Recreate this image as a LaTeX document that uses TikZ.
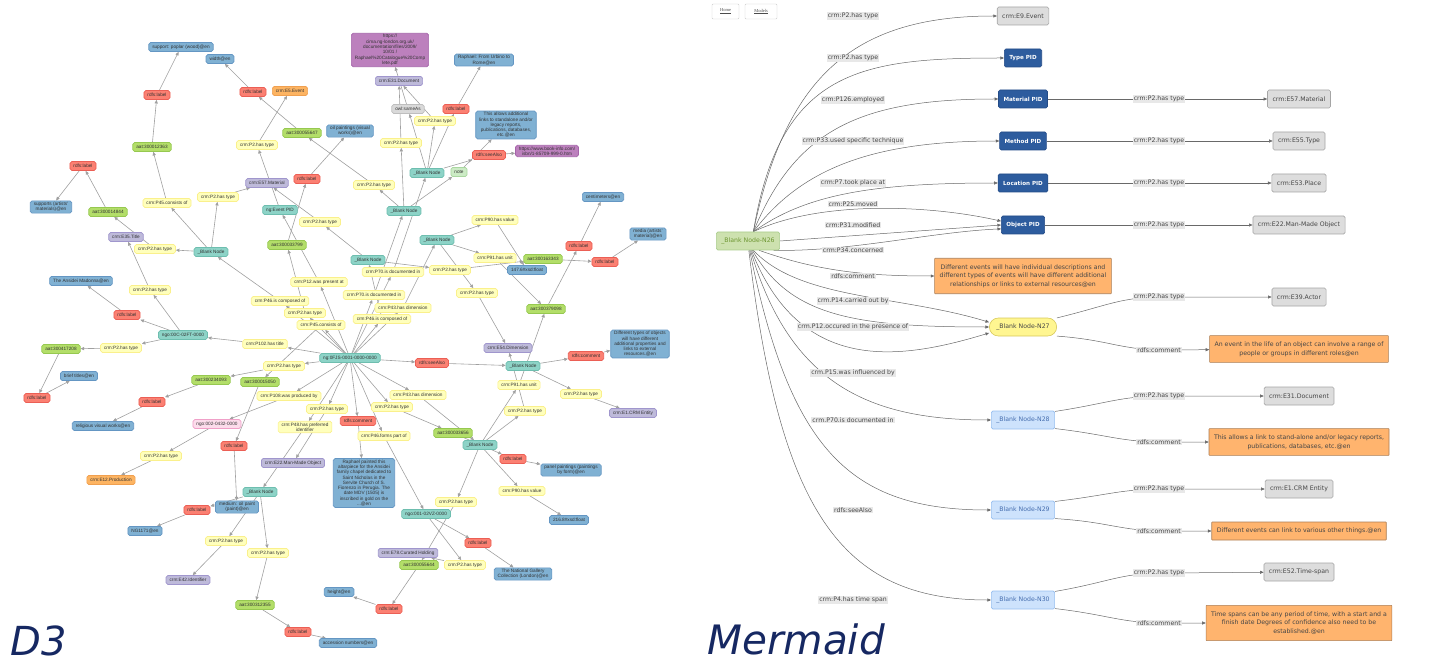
\documentclass[tikz,border=0pt]{standalone}
\usepackage{fontspec}
\setmainfont{Liberation Sans}
\newfontfamily\djv{DejaVu Sans}
\newfontfamily\srf{Liberation Serif}
\usepackage{tikz}
\usetikzlibrary{arrows.meta}

\definecolor{prY}{RGB}{255,255,188}
\definecolor{prYd}{RGB}{250,240,140}
\definecolor{bnT}{RGB}{141,211,199}
\definecolor{bnTd}{RGB}{110,190,175}
\definecolor{aaG}{RGB}{179,222,105}
\definecolor{aaGd}{RGB}{150,200,80}
\definecolor{rlR}{RGB}{251,128,114}
\definecolor{rlRd}{RGB}{235,95,85}
\definecolor{ltB}{RGB}{128,177,211}
\definecolor{ltBd}{RGB}{100,150,195}
\definecolor{clP}{RGB}{190,186,218}
\definecolor{clPd}{RGB}{160,150,205}
\definecolor{evO}{RGB}{253,180,98}
\definecolor{evOd}{RGB}{240,160,80}
\definecolor{urM}{RGB}{188,128,189}
\definecolor{urMd}{RGB}{165,100,170}
\definecolor{pkP}{RGB}{252,220,235}
\definecolor{pkPd}{RGB}{240,160,200}
\definecolor{saG}{RGB}{217,217,217}
\definecolor{saGd}{RGB}{190,190,190}
\definecolor{ntG}{RGB}{204,235,197}
\definecolor{ntGd}{RGB}{170,215,160}
\definecolor{dLine}{RGB}{160,160,160}
\definecolor{mGray}{RGB}{221,221,221}
\definecolor{mGrayd}{RGB}{165,165,165}
\definecolor{mPid}{RGB}{45,92,158}
\definecolor{mPidd}{RGB}{35,75,135}
\definecolor{mGreen}{RGB}{205,225,175}
\definecolor{mGreend}{RGB}{170,205,140}
\definecolor{mGreent}{RGB}{110,150,50}
\definecolor{mYel}{RGB}{255,246,145}
\definecolor{mYeld}{RGB}{215,200,90}
\definecolor{mBlue}{RGB}{205,226,252}
\definecolor{mBlued}{RGB}{150,190,240}
\definecolor{mBluet}{RGB}{70,110,175}
\definecolor{mOra}{RGB}{255,180,110}
\definecolor{mOrad}{RGB}{170,125,85}
\definecolor{mLab}{RGB}{232,232,232}
\definecolor{mLine}{RGB}{105,105,105}
\definecolor{mText}{RGB}{70,70,70}
\definecolor{navy}{RGB}{22,40,98}

\newcommand\dtsize{\fontsize{4.7}{5.3}\selectfont}
\newcommand\mmsize{\djv\fontsize{6.2}{8.7}\selectfont}

\pgfdeclarelayer{edges}
\pgfsetlayers{edges,main}

\begin{document}
\begin{tikzpicture}[x=1pt,y=-1pt,
  dn/.style={rounded corners=1.8pt,line width=0.7pt,inner xsep=3.5pt,inner ysep=1.3pt,minimum height=9pt,align=center,font=\dtsize,text=black!80},
  pr/.style={dn,fill=prY,draw=prYd},
  bn/.style={dn,fill=bnT,draw=bnTd},
  aa/.style={dn,fill=aaG,draw=aaGd},
  rl/.style={dn,fill=rlR,draw=rlRd},
  lt/.style={dn,fill=ltB,draw=ltBd},
  cl/.style={dn,fill=clP,draw=clPd},
  ev/.style={dn,fill=evO,draw=evOd},
  ur/.style={dn,fill=urM,draw=urMd},
  pk/.style={dn,fill=pkP,draw=pkPd},
  sa/.style={dn,fill=saG,draw=saGd},
  nt/.style={dn,fill=ntG,draw=ntGd},
  da/.style={draw=dLine,line width=0.6pt,-{Triangle[length=3.6pt,width=3.2pt]}},
  mn/.style={rounded corners=1.5pt,line width=0.6pt,inner xsep=5pt,minimum height=18pt,align=center,font=\mmsize},
  mg/.style={mn,fill=mGray,draw=mGrayd,text=mText},
  mp/.style={mn,fill=mPid,draw=mPidd,text=white,font=\djv\bfseries\fontsize{5.6}{7}\selectfont},
  mc/.style={mn,fill=mOra,draw=mOrad,text=mText,rounded corners=0.5pt,inner ysep=6pt,minimum height=18pt},
  mb/.style={mn,fill=mBlue,draw=mBlued,text=mBluet},
  ml/.style={fill=mLab,inner xsep=1pt,inner ysep=0.8pt,font=\mmsize,text=mText},
  ma/.style={draw=mLine,line width=0.5pt,-{Triangle[length=3.6pt,width=3pt]}},
  btn/.style={draw=black!20,fill=white,rounded corners=1pt,minimum height=15pt,inner xsep=2pt,font=\srf\fontsize{4.5}{5}\selectfont,text=black!70}]

\useasboundingbox (0,0) rectangle (1434,668);

% D3 graph
\node[lt] (d1) at (181,47) {support: poplar (wood)@en};
\node[lt] (d2) at (220,59) {width@en};
\node[rl] (d3) at (157,95) {rdfs:label};
\node[rl] (d4) at (253,92) {rdfs:label};
\node[ev] (d5) at (290,91) {crm:E5.Event};
\node[aa] (d6) at (152,147) {aat:300012363};
\node[pr] (d7) at (257,145) {crm:P2.has type};
\node[aa] (d8) at (302,133) {aat:300055647};
\node[lt] (d9) at (350,131) {oil paintings (visual\\works)@en};
\node[rl] (d10) at (83,166) {rdfs:label};
\node[lt] (d11) at (51,207) {supports (artists'\\materials)@en};
\node[aa] (d12) at (108,212) {aat:300014844};
\node[pr] (d13) at (167,203) {crm:P45.consists of};
\node[pr] (d14) at (218,197) {crm:P2.has type};
\node[cl] (d15) at (267,183) {crm:E57.Material};
\node[rl] (d16) at (307,179) {rdfs:label};
\node[bn] (d17) at (280,210) {ng:Event PID};
\node[ur] (d18) at (390,50) {https://\\cima.ng-london.org.uk/\\documentation/files/2009/\\10/01 /\\Raphael\%20Catalogue\%20Comp\\lete.pdf};
\node[cl] (d19) at (399,81) {crm:E31.Document};
\node[lt] (d20) at (484,60) {Raphael: From Urbino to\\Rome@en};
\node[sa] (d21) at (408,109) {owl:sameAs};
\node[rl] (d22) at (456,109) {rdfs:label};
\node[pr] (d23) at (435,121) {crm:P2.has type};
\node[lt] (d24) at (506,125) {This allows additional\\links to standalone and/or\\legacy reports,\\publications, databases,\\etc.@en};
\node[pr] (d25) at (401,143) {crm:P2.has type};
\node[rl] (d26) at (489,155) {rdfs:seeAlso};
\node[ur] (d27) at (547,151) {https://www.book-info.com/\\isbn/1-85709-999-0.htm};
\node[bn] (d28) at (427,173) {\_Blank Node};
\node[nt] (d29) at (459,172) {note};
\node[pr] (d30) at (374,185) {crm:P2.has type};
\node[bn] (d31) at (404,211) {\_Blank Node};
\node[lt] (d32) at (603,197) {centimeters@en};
\node[pr] (d33) at (495,220) {crm:P90.has value};
\node[cl] (d34) at (126,237) {crm:E35.Title};
\node[pr] (d35) at (155,249) {crm:P2.has type};
\node[bn] (d36) at (211,252) {\_Blank Node};
\node[aa] (d37) at (287,245) {aat:300033799};
\node[pr] (d38) at (320,222) {crm:P2.has type};
\node[bn] (d39) at (437,240) {\_Blank Node};
\node[bn] (d40) at (368,260) {\_Blank Node};
\node[pr] (d41) at (495,258) {crm:P91.has unit};
\node[aa] (d42) at (543,259) {aat:300163343};
\node[rl] (d43) at (579,246) {rdfs:label};
\node[lt] (d44) at (648,234) {media (artists'\\material)@en};
\node[rl] (d45) at (605,262) {rdfs:label};
\node[pr] (d46) at (393,272) {crm:P70.is documented in};
\node[pr] (d47) at (450,270) {crm:P2.has type};
\node[lt] (d48) at (527,270) {147.6\#xsd:float};
\node[lt] (d49) at (81,281) {The Ansidei Madonna@en};
\node[pr] (d50) at (150,290) {crm:P2.has type};
\node[pr] (d51) at (319,282) {crm:P12.was present at};
\node[pr] (d52) at (374,295) {crm:P70.is documented in};
\node[pr] (d53) at (477,293) {crm:P2.has type};
\node[pr] (d54) at (280,301) {crm:P46.is composed of};
\node[pr] (d55) at (403,308) {crm:P43.has dimension};
\node[aa] (d56) at (546,309) {aat:300379098};
\node[pr] (d57) at (305,313) {crm:P2.has type};
\node[rl] (d58) at (127,315) {rdfs:label};
\node[pr] (d59) at (382,319) {crm:P46.is composed of};
\node[pr] (d60) at (321,325) {crm:P45.consists of};
\node[bn] (d61) at (183,335) {ngo:00C-02FT-0000};
\node[pr] (d62) at (265,344) {crm:P102.has title};
\node[lt] (d63) at (640,344) {Different types of objects\\will have different\\additional properties and\\links to external\\resources.@en};
\node[cl] (d64) at (508,348) {crm:E54.Dimension};
\node[aa] (d65) at (61,349) {aat:300417208};
\node[pr] (d66) at (121,348) {crm:P2.has type};
\node[bn] (d67) at (350,358) {ng:0FJS-0001-0000-0000};
\node[rl] (d68) at (586,356) {rdfs:comment};
\node[rl] (d69) at (432,363) {rdfs:seeAlso};
\node[bn] (d70) at (523,366) {\_Blank Node};
\node[pr] (d71) at (284,366) {crm:P2.has type};
\node[lt] (d72) at (79,376) {brief titles@en};
\node[aa] (d73) at (211,380) {aat:300234093};
\node[aa] (d74) at (260,382) {aat:300015050};
\node[pr] (d75) at (519,385) {crm:P91.has unit};
\node[pr] (d76) at (581,394) {crm:P2.has type};
\node[pr] (d77) at (418,395) {crm:P43.has dimension};
\node[pr] (d78) at (289,396) {crm:P108.was produced by};
\node[rl] (d79) at (37,398) {rdfs:label};
\node[rl] (d80) at (152,402) {rdfs:label};
\node[pr] (d81) at (392,407) {crm:P2.has type};
\node[pr] (d82) at (327,409) {crm:P2.has type};
\node[pr] (d83) at (525,411) {crm:P2.has type};
\node[cl] (d84) at (633,413) {crm:E1.CRM Entity};
\node[rl] (d85) at (358,421) {rdfs:comment};
\node[lt] (d86) at (103,426) {religious visual works@en};
\node[pk] (d87) at (217,424) {ngo:002-0432-0000};
\node[pr] (d88) at (305,427) {crm:P48.has preferred\\identifier};
\node[aa] (d89) at (453,433) {aat:300033656};
\node[pr] (d90) at (384,436) {crm:P46.forms part of};
\node[bn] (d91) at (480,445) {\_Blank Node};
\node[rl] (d92) at (234,446) {rdfs:label};
\node[pr] (d93) at (161,456) {crm:P2.has type};
\node[rl] (d94) at (513,459) {rdfs:label};
\node[cl] (d95) at (293,463) {crm:E22.Man-Made Object};
\node[lt] (d96) at (571,470) {panel paintings (paintings\\by form)@en};
\node[ev] (d97) at (111,480) {crm:E12.Production};
\node[lt] (d98) at (364,483) {Raphael painted this\\altarpiece for the Ansidei\\family chapel dedicated to\\Saint Nicholas in the\\Servite Church of S.\\Fiorenzo in Perugia. The\\date MDV (1505) is\\inscribed in gold on the\\...@en};
\node[pr] (d99) at (522,491) {crm:P90.has value};
\node[bn] (d100) at (260,492) {\_Blank Node};
\node[pr] (d101) at (456,502) {crm:P2.has type};
\node[lt] (d102) at (237,507) {medium: oil paint\\(paint)@en};
\node[rl] (d103) at (197,510) {rdfs:label};
\node[bn] (d104) at (426,514) {ngo:001-02VZ-0000};
\node[lt] (d105) at (569,520) {216.8\#xsd:float};
\node[lt] (d106) at (145,531) {NG1171@en};
\node[pr] (d107) at (226,541) {crm:P2.has type};
\node[rl] (d108) at (478,543) {rdfs:label};
\node[pr] (d109) at (268,553) {crm:P2.has type};
\node[cl] (d110) at (408,553) {crm:E78.Curated Holding};
\node[aa] (d111) at (419,565) {aat:300055644};
\node[pr] (d112) at (465,565) {crm:P2.has type};
\node[lt] (d113) at (523,574) {The National Gallery\\Collection (London)@en};
\node[cl] (d114) at (188,580) {crm:E42.Identifier};
\node[lt] (d115) at (339,592) {height@en};
\node[aa] (d116) at (255,605) {aat:300312355};
\node[rl] (d117) at (389,609) {rdfs:label};
\node[rl] (d118) at (298,632) {rdfs:label};
\node[lt] (d119) at (348,643) {accession numbers@en};

\begin{pgfonlayer}{edges}
\draw[da] (d67) -- (d62);
\draw[da] (d67) -- (d71);
\draw[da] (d67) -- (d78);
\draw[da] (d67) -- (d82);
\draw[da] (d67) -- (d88);
\draw[da] (d67) -- (d85);
\draw[da] (d67) -- (d90);
\draw[da] (d67) -- (d81);
\draw[da] (d67) -- (d77);
\draw[da] (d67) -- (d69);
\draw[da] (d67) -- (d60);
\draw[da] (d67) -- (d57);
\draw[da] (d67) -- (d54);
\draw[da] (d67) -- (d51);
\draw[da] (d67) -- (d52);
\draw[da] (d67) -- (d46);
\draw[da] (d67) -- (d59);
\draw[da] (d67) -- (d55);
\draw[da] (d62) -- (d61);
\draw[da] (d61) -- (d66);
\draw[da] (d66) -- (d65);
\draw[da] (d65) -- (d79);
\draw[da] (d79) -- (d72);
\draw[da] (d61) -- (d58);
\draw[da] (d58) -- (d49);
\draw[da] (d61) -- (d50);
\draw[da] (d50) -- (d34);
\draw[da] (d71) -- (d73);
\draw[da] (d73) -- (d80);
\draw[da] (d80) -- (d86);
\draw[da] (d60) -- (d74);
\draw[da] (d74) -- (d92);
\draw[da] (d92) -- (d102);
\draw[da] (d78) -- (d87);
\draw[da] (d87) -- (d93);
\draw[da] (d93) -- (d97);
\draw[da] (d88) -- (d100);
\draw[da] (d82) -- (d95);
\draw[da] (d100) -- (d103);
\draw[da] (d103) -- (d106);
\draw[da] (d100) -- (d107);
\draw[da] (d107) -- (d114);
\draw[da] (d100) -- (d109);
\draw[da] (d109) -- (d116);
\draw[da] (d116) -- (d118);
\draw[da] (d118) -- (d119);
\draw[da] (d85) -- (d98);
\draw[da] (d90) -- (d104);
\draw[da] (d104) -- (d108);
\draw[da] (d108) -- (d113);
\draw[da] (d104) -- (d112);
\draw[da] (d112) -- (d110);
\draw[da] (d81) -- (d89);
\draw[da] (d89) -- (d94);
\draw[da] (d94) -- (d96);
\draw[da] (d77) -- (d91);
\draw[da] (d91) -- (d99);
\draw[da] (d99) -- (d105);
\draw[da] (d91) -- (d101);
\draw[da] (d101) -- (d111);
\draw[da] (d111) -- (d117);
\draw[da] (d117) -- (d115);
\draw[da] (d91) -- (d75);
\draw[da] (d91) -- (d83);
\draw[da] (d75) -- (d56);
\draw[da] (d83) -- (d64);
\draw[da] (d69) -- (d70);
\draw[da] (d70) -- (d68);
\draw[da] (d68) -- (d63);
\draw[da] (d70) -- (d76);
\draw[da] (d76) -- (d84);
\draw[da] (d56) -- (d43);
\draw[da] (d43) -- (d32);
\draw[da] (d55) -- (d39);
\draw[da] (d39) -- (d33);
\draw[da] (d33) -- (d48);
\draw[da] (d39) -- (d41);
\draw[da] (d41) -- (d56);
\draw[da] (d39) -- (d53);
\draw[da] (d53) -- (d64);
\draw[da] (d59) -- (d40);
\draw[da] (d40) -- (d47);
\draw[da] (d47) -- (d42);
\draw[da] (d42) -- (d45);
\draw[da] (d45) -- (d44);
\draw[da] (d40) -- (d38);
\draw[da] (d38) -- (d15);
\draw[da] (d46) -- (d28);
\draw[da] (d52) -- (d31);
\draw[da] (d31) -- (d30);
\draw[da] (d30) -- (d8);
\draw[da] (d8) -- (d4);
\draw[da] (d4) -- (d2);
\draw[da] (d31) -- (d25);
\draw[da] (d25) -- (d19);
\draw[da] (d31) -- (d29);
\draw[da] (d28) -- (d21);
\draw[da] (d21) -- (d18);
\draw[da] (d28) -- (d23);
\draw[da] (d23) -- (d19);
\draw[da] (d28) -- (d22);
\draw[da] (d22) -- (d20);
\draw[da] (d28) -- (d26);
\draw[da] (d26) -- (d27);
\draw[da] (d29) -- (d24);
\draw[da] (d57) -- (d37);
\draw[da] (d37) -- (d16);
\draw[da] (d16) -- (d9);
\draw[da] (d51) -- (d17);
\draw[da] (d17) -- (d7);
\draw[da] (d7) -- (d5);
\draw[da] (d54) -- (d36);
\draw[da] (d36) -- (d35);
\draw[da] (d35) -- (d12);
\draw[da] (d12) -- (d10);
\draw[da] (d10) -- (d11);
\draw[da] (d36) -- (d13);
\draw[da] (d13) -- (d6);
\draw[da] (d6) -- (d3);
\draw[da] (d3) -- (d1);
\draw[da] (d36) -- (d14);
\draw[da] (d14) -- (d15);
\end{pgfonlayer}

\node[font=\djv\itshape\fontsize{40}{40}\selectfont,text=navy,inner sep=0pt,anchor=base west] (t1) at (10,655) {D3};

% Mermaid graph
\node[btn,minimum width=27pt] (m1) at (725.5,11.5) {\underline{Home}};
\node[btn,minimum width=32pt] (m2) at (761,11.5) {\underline{Models}};
\node[mn,fill=mGreen,draw=mGreend,text=mGreent] (m3) at (748,241) {\_Blank Node-N26};
\node[mg] (m4) at (1023,16) {crm:E9.Event};
\node[mp] (m5) at (1023,58) {Type PID};
\node[mp] (m6) at (1023,99) {Material PID};
\node[mp] (m7) at (1023,141) {Method PID};
\node[mp] (m8) at (1023,183) {Location PID};
\node[mp] (m9) at (1023,225) {Object PID};
\node[mc] (m10) at (1023,276) {Different events will have individual descriptions and\\different types of events will have different additional\\relationships or links to external resources@en};
\node[mn,fill=mYel,draw=mYeld,text=mText,rounded corners=9pt,inner xsep=7pt] (m11) at (1023,327) {\_Blank Node-N27};
\node[mb] (m12) at (1023,420) {\_Blank Node-N28};
\node[mb] (m13) at (1023,510) {\_Blank Node-N29};
\node[mb] (m14) at (1023,600) {\_Blank Node-N30};
\node[mg] (m15) at (1299,99) {crm:E57.Material};
\node[mg] (m16) at (1299,141) {crm:E55.Type};
\node[mg] (m17) at (1299,183) {crm:E53.Place};
\node[mg] (m18) at (1299,225) {crm:E22.Man-Made Object};
\node[mg] (m19) at (1299,297) {crm:E39.Actor};
\node[mc] (m20) at (1299,349) {An event in the life of an object can involve a range of\\people or groups in different roles@en};
\node[mg] (m21) at (1299,396) {crm:E31.Document};
\node[mc] (m22) at (1299,442) {This allows a link to stand-alone and/or legacy reports,\\publications, databases, etc.@en};
\node[mg] (m23) at (1299,489) {crm:E1.CRM Entity};
\node[mc,inner ysep=2pt] (m24) at (1299,531) {Different events can link to various other things.@en};
\node[mg] (m25) at (1299,572) {crm:E52.Time-span};
\node[mc] (m26) at (1299,623) {Time spans can be any period of time, with a start and a\\finish date Degrees of confidence also need to be\\established.@en};

\begin{pgfonlayer}{edges}
\draw[ma] (m3.60) .. controls (785,80) and (850,16) .. (m4.west);
\draw[ma] (m3.60) .. controls (780,70) and (860,58) .. (m5.west);
\draw[ma] (m3.60) .. controls (795,130) and (860,99) .. (m6.west);
\draw[ma] (m3.60) .. controls (800,170) and (870,141) .. (m7.west);
\draw[ma] (m3.60) .. controls (805,195) and (870,183) .. (m8.west);
\draw[ma] (m3.60) .. controls (820,200) and (930,205) .. (m9.170);
\draw[ma] (m3.east) -- (m9.west);
\draw[ma] (m3.-20) .. controls (850,252) and (930,232) .. (m9.190);
\draw[ma] (m3.-40) .. controls (820,272) and (870,276) .. (m10.west);
\draw[ma] (m3.-60) .. controls (800,300) and (900,295) .. (m11.172);
\draw[ma] (m3.-65) .. controls (790,315) and (850,327) .. (m11.west);
\draw[ma] (m3.-70) .. controls (800,375) and (900,360) .. (m11.190);
\draw[ma] (m3.-75) .. controls (790,385) and (870,420) .. (m12.west);
\draw[ma] (m3.-80) .. controls (790,450) and (850,510) .. (m13.west);
\draw[ma] (m3.-85) .. controls (780,510) and (840,600) .. (m14.west);
\draw[ma] (m6) -- (m15);
\draw[ma] (m7) -- (m16);
\draw[ma] (m8) -- (m17);
\draw[ma] (m9) -- (m18);
\draw[ma] (m11.15) .. controls (1110,305) and (1120,297) .. (1165,297) -- (m19);
\draw[ma] (m11.-15) .. controls (1110,340) and (1120,350) .. (1165,350) -- (m20);
\draw[ma] (m12.15) .. controls (1110,403) and (1120,396) .. (1165,396) -- (m21);
\draw[ma] (m12.-15) .. controls (1110,435) and (1120,442) .. (1165,442) -- (m22);
\draw[ma] (m13.15) .. controls (1110,495) and (1120,489) .. (1165,489) -- (m23);
\draw[ma] (m13.-15) .. controls (1110,522) and (1120,531) .. (1165,531) -- (m24);
\draw[ma] (m14.15) .. controls (1110,582) and (1120,573) .. (1165,573) -- (m25);
\draw[ma] (m14.-15) .. controls (1110,615) and (1120,623) .. (1165,623) -- (m26);
\end{pgfonlayer}

% edge labels
\node[ml] (l1) at (853,16) {crm:P2.has type};
\node[ml] (l2) at (853,58) {crm:P2.has type};
\node[ml] (l3) at (853,100) {crm:P126.employed};
\node[ml] (l4) at (853,141) {crm:P33.used specific technique};
\node[ml] (l5) at (853,183) {crm:P7.took place at};
\node[ml] (l6) at (853,204) {crm:P25.moved};
\node[ml] (l7) at (853,225) {crm:P31.modified};
\node[ml] (l8) at (853,250) {crm:P34.concerned};
\node[ml] (l9) at (853,276) {rdfs:comment};
\node[ml] (l10) at (853,301) {crm.P14.carried out by};
\node[ml] (l11) at (853,327) {crm.P12.occured in the presence of};
\node[ml] (l12) at (853,373) {crm.P15.was influenced by};
\node[ml] (l13) at (853,420) {crm.P70.is documented in};
\node[ml] (l14) at (853,510) {rdfs:seeAlso};
\node[ml] (l15) at (853,600) {crm:P4.has time span};
\node[ml] (r1) at (1159,99) {crm:P2.has type};
\node[ml] (r2) at (1159,141) {crm:P2.has type};
\node[ml] (r3) at (1159,183) {crm:P2.has type};
\node[ml] (r4) at (1159,225) {crm:P2.has type};
\node[ml] (r5) at (1159,297) {crm:P2.has type};
\node[ml] (r6) at (1159,350) {rdfs:comment};
\node[ml] (r7) at (1159,396) {crm:P2.has type};
\node[ml] (r8) at (1159,442) {rdfs:comment};
\node[ml] (r9) at (1159,489) {crm:P2.has type};
\node[ml] (r10) at (1159,531) {rdfs:comment};
\node[ml] (r11) at (1159,573) {crm:P2.has type};
\node[ml] (r12) at (1159,623) {rdfs:comment};

\node[font=\djv\itshape\fontsize{40.5}{40.5}\selectfont,text=navy,inner sep=0pt,anchor=base west] (t2) at (707,654) {Mermaid};

\end{tikzpicture}
\end{document}
